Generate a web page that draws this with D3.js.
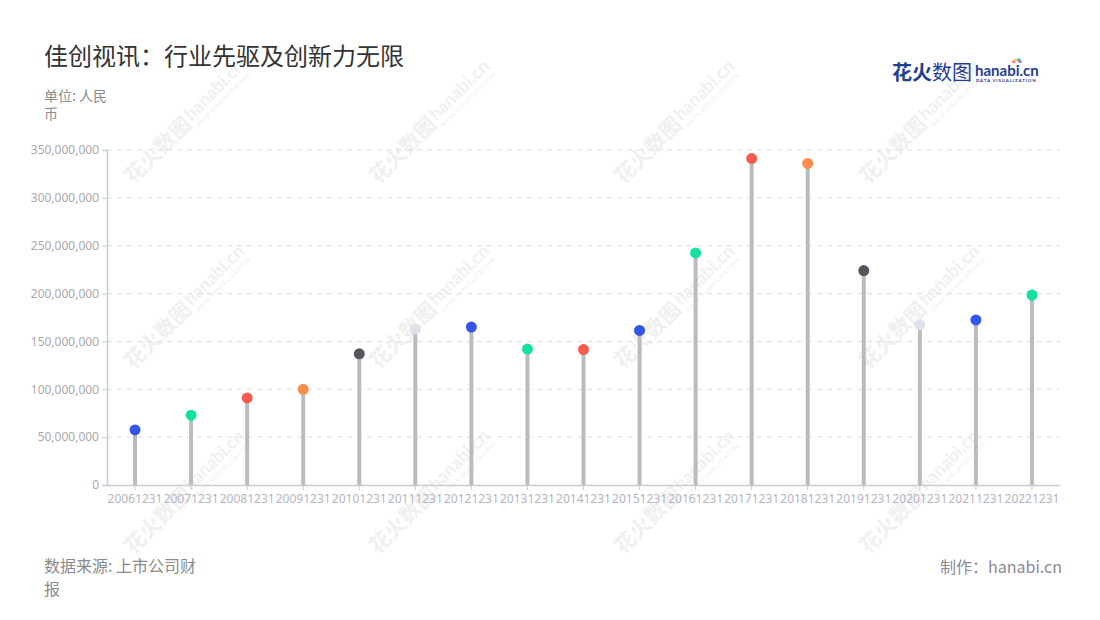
<!DOCTYPE html>
<html><head><meta charset="utf-8">
<script src="https://cdn.jsdelivr.net/npm/d3@7"></script>
<style>
html,body{margin:0;padding:0;background:#fff;}
svg{display:block;font-family:"Noto Sans CJK SC","Noto Sans",sans-serif;}
</style></head>
<body><svg id="c" width="1100" height="620"></svg>
<script>
const categories = ["20061231","20071231","20081231","20091231","20101231","20111231","20121231","20131231","20141231","20151231","20161231","20171231","20181231","20191231","20201231","20211231","20221231"];
const values = [57500000,73000000,91000000,100000000,137000000,163000000,165000000,142000000,141500000,161500000,242500000,341000000,336000000,224000000,167500000,172500000,198500000];
const pointColors = ["#3456e6","#14e0a0","#f85a4e","#fa8c4e","#55555e","#dde1ea","#3456e6","#14e0a0","#f85a4e","#3456e6","#14e0a0","#f85a4e","#fa8c4e","#55555e","#dde1ea","#3456e6","#14e0a0"];
const yTicks = [0,50000000,100000000,150000000,200000000,250000000,300000000,350000000];
const title = "佳创视讯：行业先驱及创新力无限";
const unitLines = ["单位: 人民","币"];
const sourceLines = ["数据来源: 上市公司财","报"];
const credit = "制作：hanabi.cn";

const svg = d3.select("#c");
const M = {left:107, right:1060, top:150, bottom:485};

// watermarks
const wm = svg.append("g");
const wmX = [180,425,670,915], wmY = [127,312,497];
wmY.forEach(cy => wmX.forEach(cx => {
  const g = wm.append("g").attr("transform",`translate(${cx},${cy}) rotate(-45)`).attr("fill","#f0f0f0");
  g.append("text").attr("x",-74).attr("y",8).attr("font-size",21).attr("font-weight","bold").text("花火数图");
  g.append("text").attr("x",12).attr("y",4).attr("font-size",18).attr("font-weight","bold").attr("font-family","Lato, sans-serif").text("hanabi.cn");
  g.append("text").attr("x",13).attr("y",13).attr("font-size",5.5).attr("font-weight","bold").attr("font-family","Lato, sans-serif").attr("letter-spacing",1).text("DATA VISUALIZATION");
}));

const x = d3.scaleBand().domain(categories).range([M.left,M.right]).padding(0);
const y = d3.scaleLinear().domain([0,350000000]).range([M.bottom,M.top]);

// grid
svg.append("g").selectAll("line").data(yTicks.filter(d=>d>0)).join("line")
  .attr("x1",M.left).attr("x2",M.right).attr("y1",d=>y(d)).attr("y2",d=>y(d))
  .attr("stroke","#dedede").attr("stroke-dasharray","5,5");

// y axis
const ya = svg.append("g").attr("transform",`translate(${M.left},0)`)
  .call(d3.axisLeft(y).tickValues(yTicks).tickFormat(d3.format(",")).tickSize(5).tickPadding(3));
ya.select(".domain").attr("stroke","#cccccc").attr("stroke-width",1.5);
ya.selectAll(".tick line").attr("stroke","#cccccc");
ya.selectAll(".tick text").attr("fill","#a9a9a9").attr("font-size",12).attr("font-family","'Noto Sans',sans-serif");

// x axis
const xa = svg.append("g").attr("transform",`translate(0,${M.bottom})`)
  .call(d3.axisBottom(x).tickSize(5).tickPadding(4).tickSizeOuter(0));
xa.select(".domain").attr("stroke","#cccccc").attr("stroke-width",1.5);
xa.selectAll(".tick line").attr("stroke","#cccccc");
xa.selectAll(".tick text").attr("fill","#b3b6c2").attr("font-size",12).attr("font-family","'Noto Sans',sans-serif");

// stems
const cx = d => x(d) + x.bandwidth()/2;
svg.append("g").selectAll("line").data(categories).join("line")
  .attr("x1",cx).attr("x2",cx).attr("y1",M.bottom).attr("y2",(d,i)=>y(values[i]))
  .attr("stroke","#bbbbbb").attr("stroke-width",4);
svg.append("g").selectAll("circle").data(categories).join("circle")
  .attr("cx",cx).attr("cy",(d,i)=>y(values[i])).attr("r",5.5)
  .attr("fill",(d,i)=>pointColors[i]);

// title & notes
svg.append("text").attr("x",44).attr("y",65).attr("font-size",24).attr("fill","#333333").text(title);
unitLines.forEach((t,i)=>svg.append("text").attr("x",44).attr("y",101+i*18).attr("font-size",14).attr("fill","#8b8b8b").text(t));
sourceLines.forEach((t,i)=>svg.append("text").attr("x",44).attr("y",572+i*23).attr("font-size",16).attr("fill","#8b8b8b").text(t));
svg.append("text").attr("x",1062).attr("y",573).attr("text-anchor","end").attr("font-size",16).attr("fill","#8a8a98").text(credit);

// logo
const lg = svg.append("g");
lg.append("text").attr("x",892).attr("y",80).attr("font-size",20).attr("font-weight","bold").attr("fill","#1f3f94").text("花火");
lg.append("text").attr("x",932).attr("y",80).attr("font-size",20).attr("fill","#1f3f94").text("数图");
lg.append("text").attr("x",975).attr("y",76).attr("font-size",15).attr("font-weight","bold").attr("font-family","Lato, sans-serif").attr("fill","#1f3f94").text("hanabi.cn");
lg.append("text").attr("x",976).attr("y",82).attr("font-size",4.5).attr("font-weight","bold").attr("font-family","Lato, sans-serif").attr("letter-spacing",0.8).attr("fill","#1f3f94").text("DATA VISUALIZATION");
const spark = ["#f85a4e","#fa8c4e","#f5d04e","#14e0a0","#3456e6","#9b59e6"];
spark.forEach((c,i)=>{
  const a = -Math.PI + (i+0.5)*Math.PI/spark.length;
  lg.append("line").attr("x1",1017+Math.cos(a)*2).attr("y1",63+Math.sin(a)*2)
    .attr("x2",1017+Math.cos(a)*5).attr("y2",63+Math.sin(a)*5).attr("stroke",c).attr("stroke-width",1.5);
});
</script></body></html>
